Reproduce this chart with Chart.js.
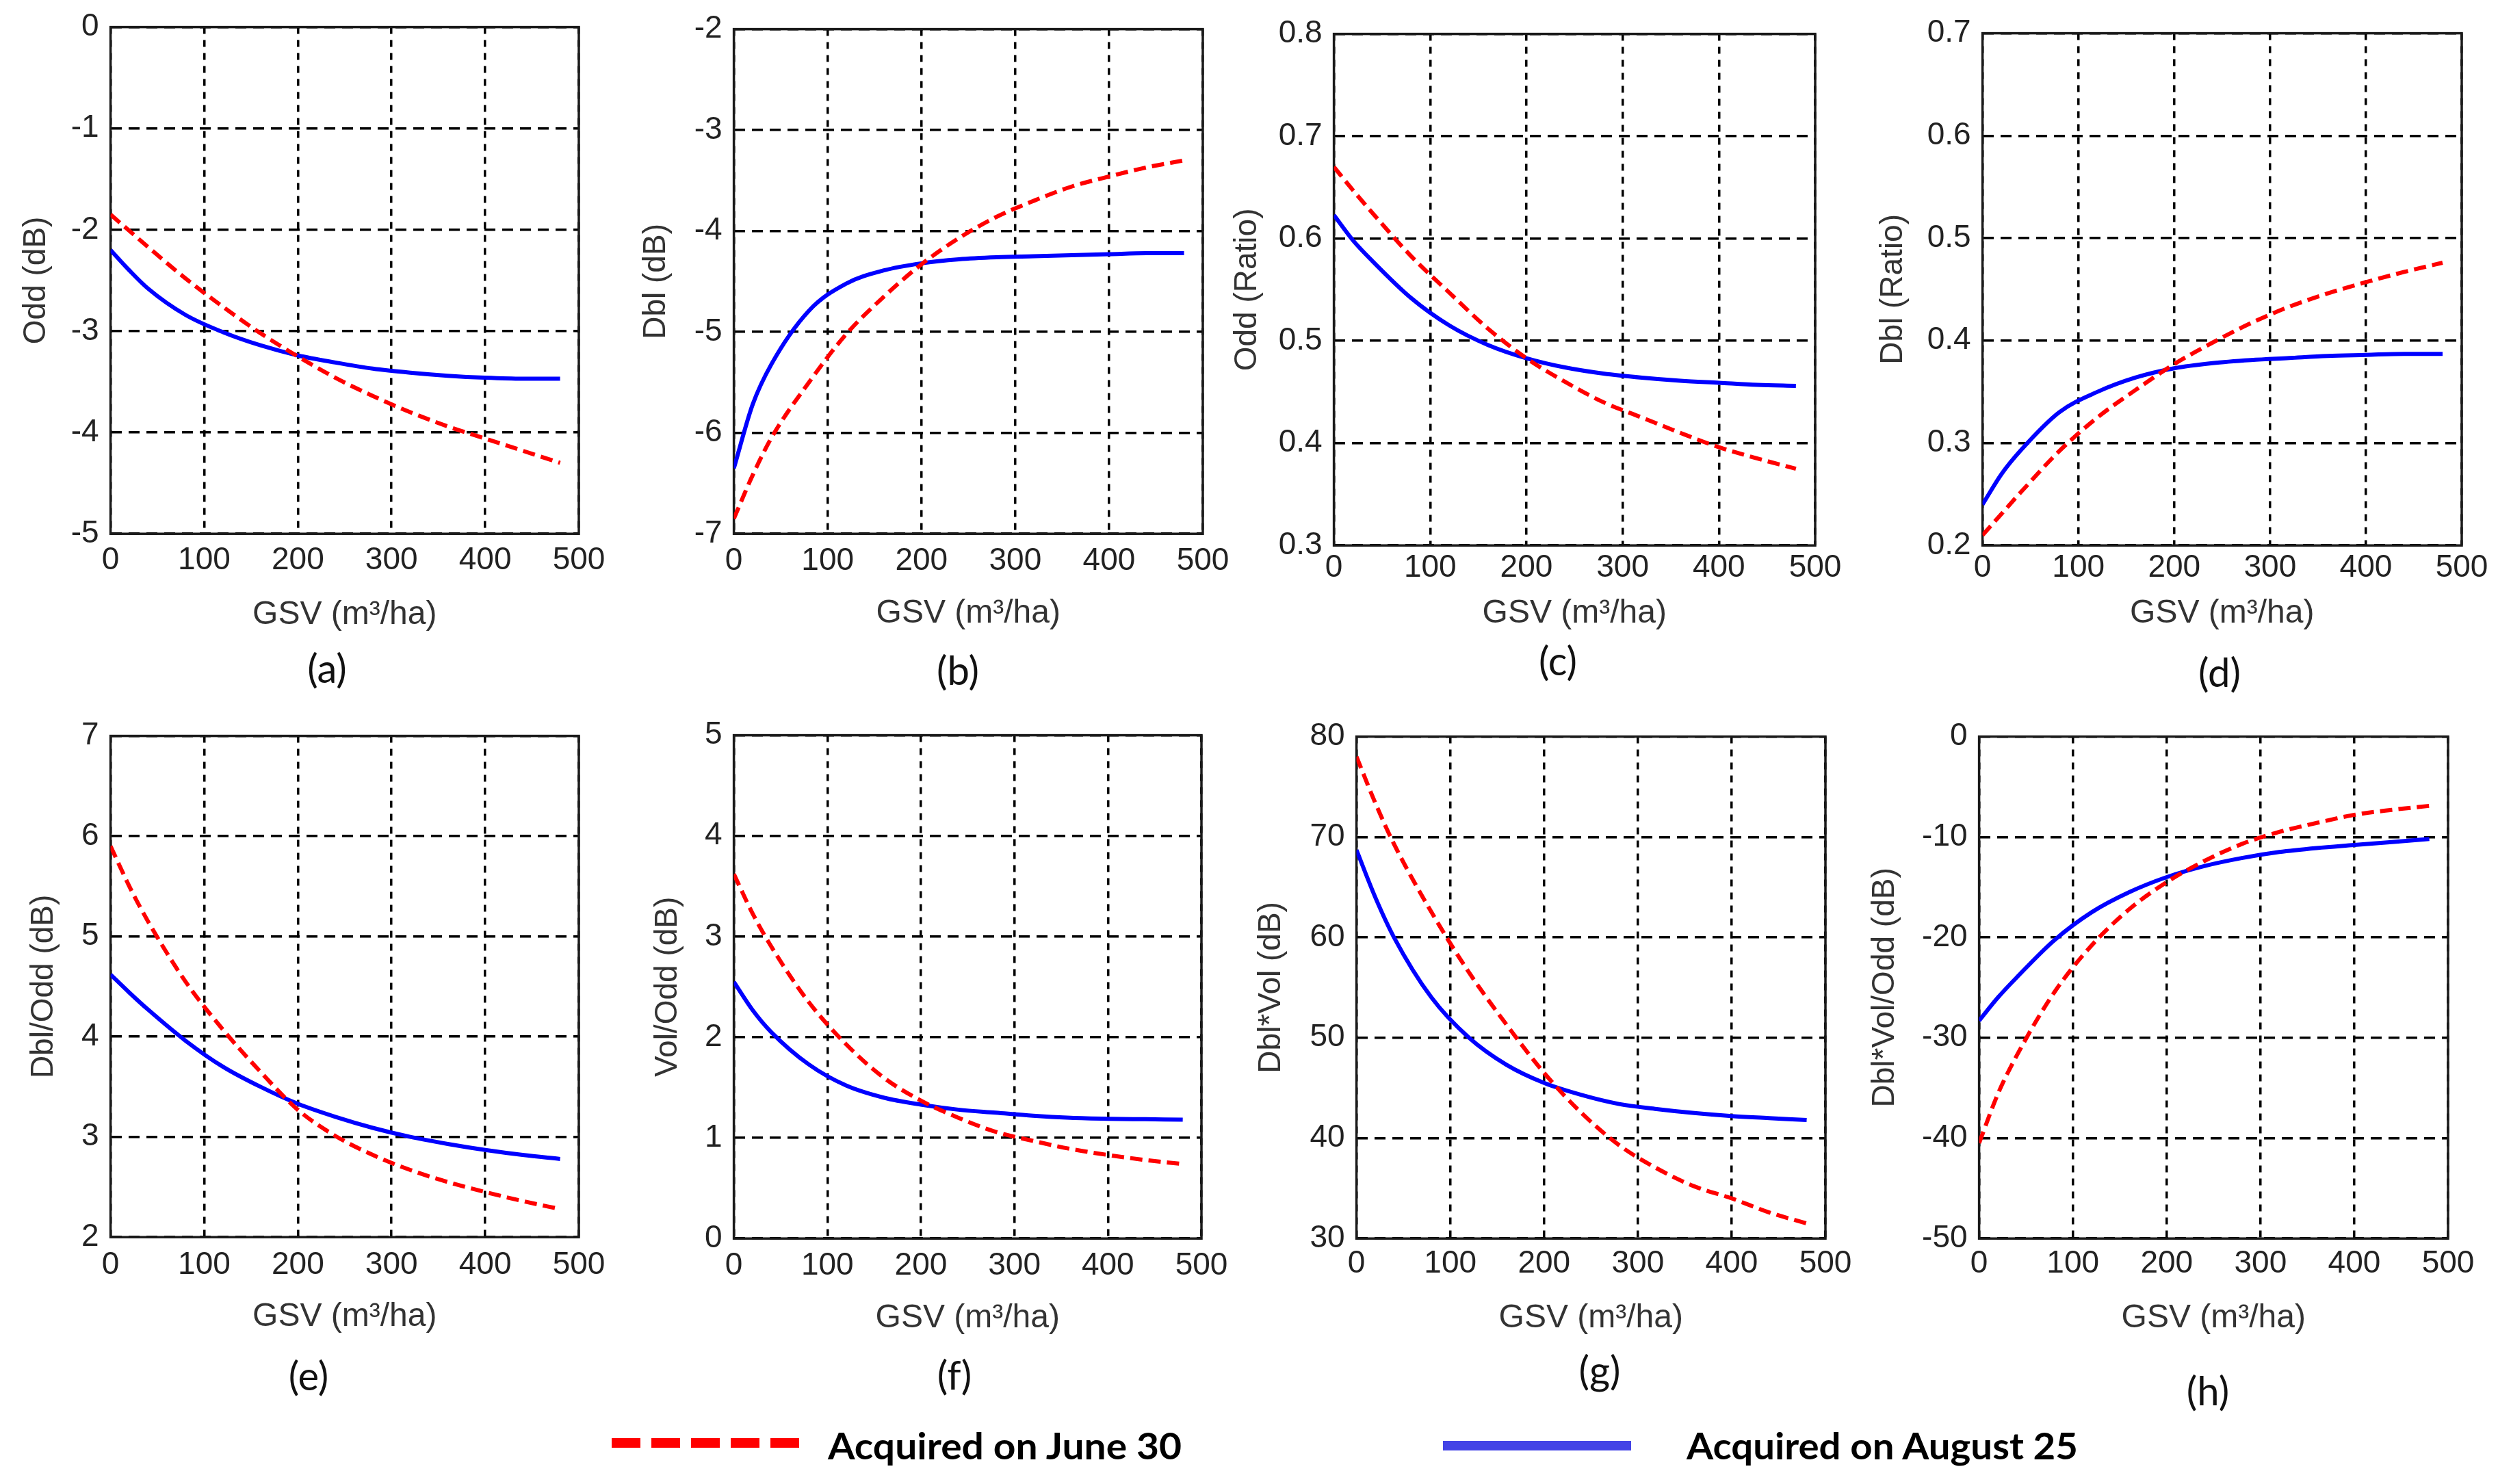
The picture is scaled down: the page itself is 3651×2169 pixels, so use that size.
<!DOCTYPE html>
<html>
<head>
<meta charset="utf-8">
<script src="https://cdn.jsdelivr.net/npm/chart.js@4.4.1/dist/chart.umd.min.js"></script>
<style>
  body { margin: 0; background: #fff; width: 3651px; height: 2169px; position: relative; overflow: hidden; }
  canvas { position: absolute; }
  .sub { position: absolute; font-family: Lato, "Open Sans", sans-serif; font-size: 58px; color: #111;
         transform: translate(-50%, -50%); white-space: nowrap; }
  .leg { position: absolute; font-family: Lato, "Open Sans", sans-serif; font-weight: bold; font-size: 54px;
         color: #000; white-space: nowrap; transform-origin: left center; transform: translateY(-50%); }
  .swatch { position: absolute; height: 14px; }
</style>
</head>
<body>
<script>
// GSV sample positions (m3/ha)
const gsv = [0, 20, 40, 80, 120, 160, 200, 240, 280, 320, 360, 400, 440, 480];

// (a) Odd (dB)
const oddDbJune = [-1.85, -2.01, -2.17, -2.48, -2.76, -3.02, -3.25, -3.46, -3.64, -3.80, -3.94, -4.06, -4.18, -4.30];
const oddDbAug  = [-2.20, -2.40, -2.58, -2.84, -3.01, -3.14, -3.24, -3.31, -3.37, -3.41, -3.44, -3.46, -3.47, -3.47];
// (b) Dbl (dB)
const dblDbJune = [-6.85, -6.42, -6.05, -5.50, -5.02, -4.65, -4.33, -4.07, -3.86, -3.70, -3.56, -3.46, -3.37, -3.30];
const dblDbAug  = [-6.35, -5.72, -5.32, -4.79, -4.52, -4.39, -4.32, -4.28, -4.26, -4.25, -4.24, -4.23, -4.22, -4.22];
// (c) Odd (Ratio)
const oddRatioJune = [0.670, 0.647, 0.625, 0.583, 0.547, 0.512, 0.483, 0.460, 0.440, 0.425, 0.410, 0.396, 0.385, 0.375];
const oddRatioAug  = [0.623, 0.598, 0.578, 0.542, 0.515, 0.496, 0.483, 0.474, 0.468, 0.464, 0.461, 0.459, 0.457, 0.456];
// (d) Dbl (Ratio)
const dblRatioJune = [0.210, 0.231, 0.252, 0.292, 0.325, 0.352, 0.377, 0.398, 0.417, 0.433, 0.446, 0.457, 0.467, 0.476];
const dblRatioAug  = [0.240, 0.270, 0.293, 0.330, 0.350, 0.364, 0.373, 0.378, 0.381, 0.383, 0.385, 0.386, 0.387, 0.387];
// (e) Dbl/Odd (dB)
const dblOddJune = [5.90, 5.50, 5.15, 4.55, 4.07, 3.65, 3.27, 3.01, 2.82, 2.67, 2.55, 2.45, 2.36, 2.28];
const dblOddAug  = [4.62, 4.44, 4.27, 3.96, 3.70, 3.50, 3.33, 3.20, 3.09, 3.00, 2.93, 2.87, 2.82, 2.78];
// (f) Vol/Odd (dB)
const volOddJune = [3.62, 3.23, 2.90, 2.35, 1.93, 1.60, 1.37, 1.20, 1.06, 0.97, 0.89, 0.83, 0.78, 0.74];
const volOddAug  = [2.55, 2.27, 2.05, 1.73, 1.52, 1.40, 1.33, 1.28, 1.25, 1.22, 1.20, 1.19, 1.185, 1.18];
// (g) Dbl*Vol (dB)
const dblVolJune = [78.0, 73.4, 69.3, 62.5, 56.5, 51.3, 46.5, 42.5, 39.3, 37.0, 35.2, 34.0, 32.6, 31.5];
const dblVolAug  = [68.7, 64.0, 60.0, 54.0, 50.0, 47.3, 45.5, 44.3, 43.4, 42.9, 42.5, 42.2, 42.0, 41.8];
// (h) Dbl*Vol/Odd (dB)
const dblVolOddJune = [-40.5, -35.6, -31.8, -25.5, -20.8, -17.2, -14.5, -12.4, -10.7, -9.5, -8.6, -7.8, -7.3, -6.9];
const dblVolOddAug  = [-28.3, -26.0, -24.0, -20.3, -17.5, -15.5, -14.0, -12.9, -12.1, -11.5, -11.1, -10.8, -10.5, -10.2];

// tick labels
const xTicks = [0, 100, 200, 300, 400, 500];
const oddDbTicks = [-5, -4, -3, -2, -1, 0];
const dblDbTicks = [-7, -6, -5, -4, -3, -2];
const oddRatioTicks = [0.3, 0.4, 0.5, 0.6, 0.7, 0.8];
const dblRatioTicks = [0.2, 0.3, 0.4, 0.5, 0.6, 0.7];
const dblOddTicks = [2, 3, 4, 5, 6, 7];
const volOddTicks = [0, 1, 2, 3, 4, 5];
const dblVolTicks = [30, 40, 50, 60, 70, 80];
const dblVolOddTicks = [-50, -40, -30, -20, -10, 0];

const xTitle = 'GSV (m³/ha)';
const seriesNames = ['Acquired on June 30', 'Acquired on August 25'];

// panel layout: plot box [left, top, right, bottom], y title offset, x tick / x title offsets, sub label pos
const panels = [
  { tag: '(a)', yTitle: 'Odd (dB)',         june: oddDbJune,     aug: oddDbAug,     yTicks: oddDbTicks,     box: [162, 35, 846, 780],     yt: 108, xl: 39, xt: 119, sub: [478, 975] },
  { tag: '(b)', yTitle: 'Dbl (dB)',         june: dblDbJune,     aug: dblDbAug,     yTicks: dblDbTicks,     box: [1073, 38, 1758, 780],   yt: 113, xl: 40, xt: 117, sub: [1400, 978] },
  { tag: '(c)', yTitle: 'Odd (Ratio)',      june: oddRatioJune,  aug: oddRatioAug,  yTicks: oddRatioTicks,  box: [1950, 45, 2653, 797],   yt: 126, xl: 33, xt: 100, sub: [2277, 964] },
  { tag: '(d)', yTitle: 'Dbl (Ratio)',      june: dblRatioJune,  aug: dblRatioAug,  yTicks: dblRatioTicks,  box: [2898, 44, 3598, 797],   yt: 130, xl: 33, xt: 100, sub: [3244, 981] },
  { tag: '(e)', yTitle: 'Dbl/Odd (dB)',     june: dblOddJune,    aug: dblOddAug,    yTicks: dblOddTicks,    box: [162, 1071, 846, 1808],  yt: 97,  xl: 41, xt: 117, sub: [451, 2009] },
  { tag: '(f)', yTitle: 'Vol/Odd (dB)',     june: volOddJune,    aug: volOddAug,    yTicks: volOddTicks,    box: [1073, 1070, 1756, 1810], yt: 96, xl: 40, xt: 117, sub: [1395, 2008] },
  { tag: '(g)', yTitle: 'Dbl*Vol (dB)',     june: dblVolJune,    aug: dblVolAug,    yTicks: dblVolTicks,    box: [1983, 1072, 2668, 1810], yt: 124, xl: 37, xt: 117, sub: [2338, 2001] },
  { tag: '(h)', yTitle: 'Dbl*Vol/Odd (dB)', june: dblVolOddJune, aug: dblVolOddAug, yTicks: dblVolOddTicks, box: [2893, 1072, 3578, 1810], yt: 137, xl: 37, xt: 117, sub: [3227, 2031] }
];

const TICK_FONT = 46, TITLE_FONT = 46, XTITLE_FONT = 48;
const PAD_TOP = 40, PAD_RIGHT = 60;

// closed box around the plot area
const frame = {
  id: 'frame',
  beforeDatasetsDraw(chart) {
    const { ctx, chartArea: a } = chart;
    ctx.save();
    ctx.strokeStyle = '#1a1a1a';
    ctx.lineWidth = 3.5;
    ctx.strokeRect(a.left, a.top, a.right - a.left, a.bottom - a.top);
    ctx.restore();
  }
};

panels.forEach(p => {
  const [L, T, R, B] = p.box;
  const yAxisW = p.yt + TITLE_FONT * 1.2 / 2;
  const xAxisH = p.xt + XTITLE_FONT * 1.2 / 2;
  const cv = document.createElement('canvas');
  const w = Math.round(yAxisW + (R - L) + PAD_RIGHT);
  const h = Math.round(PAD_TOP + (B - T) + xAxisH);
  cv.width = w; cv.height = h;
  cv.style.left = (L - yAxisW) + 'px';
  cv.style.top = (T - PAD_TOP) + 'px';
  cv.style.width = w + 'px'; cv.style.height = h + 'px';
  document.body.appendChild(cv);

  const yTickVals = p.yTicks;
  new Chart(cv, {
    type: 'line',
    data: {
      datasets: [
        { label: seriesNames[0], data: gsv.map((x, i) => ({ x: x, y: p.june[i] })),
          borderColor: '#ff0000', borderWidth: 6, borderDash: [18, 9], pointRadius: 0,
          cubicInterpolationMode: 'monotone', fill: false },
        { label: seriesNames[1], data: gsv.map((x, i) => ({ x: x, y: p.aug[i] })),
          borderColor: '#0000ff', borderWidth: 6, pointRadius: 0,
          cubicInterpolationMode: 'monotone', fill: false }
      ]
    },
    options: {
      responsive: false,
      animation: false,
      devicePixelRatio: 1,
      layout: { padding: { top: PAD_TOP, right: PAD_RIGHT, left: 0, bottom: 0 } },
      plugins: { legend: { display: false }, tooltip: { enabled: false } },
      scales: {
        x: {
          type: 'linear', min: 0, max: 500,
          afterBuildTicks: s => { s.ticks = xTicks.map(v => ({ value: v })); },
          afterFit: s => { s.height = xAxisH; },
          ticks: { padding: p.xl - TICK_FONT * 0.6, color: '#222', maxRotation: 0,
                   font: { family: 'Liberation Sans', size: TICK_FONT }, callback: v => String(v) },
          grid: { color: '#000', lineWidth: 3.5, drawTicks: false },
          border: { display: false, dash: [10, 9] },
          title: { display: true, text: xTitle, color: '#333', padding: 0,
                   font: { family: 'Liberation Sans', size: XTITLE_FONT } }
        },
        y: {
          type: 'linear', min: yTickVals[0], max: yTickVals[yTickVals.length - 1],
          afterBuildTicks: s => { s.ticks = yTickVals.map(v => ({ value: v })); },
          afterFit: s => { s.width = yAxisW; },
          ticks: { padding: 17, color: '#222',
                   font: { family: 'Liberation Sans', size: TICK_FONT }, callback: v => String(v) },
          grid: { color: '#000', lineWidth: 3.5, drawTicks: false },
          border: { display: false, dash: [16, 10] },
          title: { display: true, text: p.yTitle, color: '#333', padding: 0,
                   font: { family: 'Liberation Sans', size: TITLE_FONT } }
        }
      }
    },
    plugins: [frame]
  });

  const s = document.createElement('div');
  s.className = 'sub';
  s.textContent = p.tag;
  s.style.left = p.sub[0] + 'px';
  s.style.top = p.sub[1] + 'px';
  document.body.appendChild(s);
});

// figure legend
function legendItem(name, swatchCss, swatchBox, textLeft, textWidth, y) {
  const sw = document.createElement('div');
  sw.className = 'swatch';
  sw.style.left = swatchBox[0] + 'px';
  sw.style.width = swatchBox[1] + 'px';
  sw.style.top = (swatchBox[2] - 7) + 'px';
  sw.style.background = swatchCss;
  document.body.appendChild(sw);
  const t = document.createElement('div');
  t.className = 'leg';
  t.textContent = name;
  t.style.left = textLeft + 'px';
  t.style.top = y + 'px';
  t.dataset.w = textWidth;
  document.body.appendChild(t);
}
legendItem(seriesNames[0], 'repeating-linear-gradient(to right, #ff0000 0 42px, transparent 42px 58px)',
           [894, 274, 2109], 1210, 517, 2112);
legendItem(seriesNames[1], '#4343e6', [2109, 275, 2113], 2465, 572, 2112);

document.fonts.ready.then(() => {
  document.querySelectorAll('.leg').forEach(el => {
    const w = el.getBoundingClientRect().width;
    el.style.transform = 'translateY(-50%) scaleX(' + (+el.dataset.w / w) + ')';
  });
});
</script>
</body>
</html>
